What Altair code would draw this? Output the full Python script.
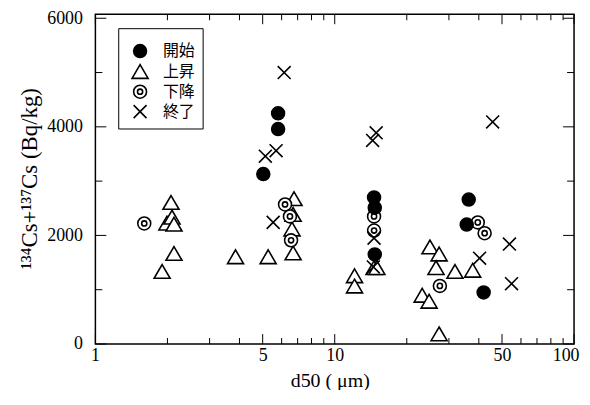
import altair as alt
import pandas as pd

series = ["開始", "上昇", "下降", "終了"]

start_x = [5.03, 5.8, 5.8, 14.6, 14.7, 14.7, 36.3, 35.6, 41.9]
start_y = [3130, 3960, 4250, 2700, 2510, 1650, 2660, 2200, 950]

up_x = [1.90, 1.99, 2.09, 2.13, 2.07, 2.13, 3.85, 5.27, 6.76, 6.7, 6.63, 6.7,
        12.1, 12.1, 14.6, 15.0, 25.0, 27.3, 26.5, 31.8, 37.7, 23.2, 24.8, 27.3]
up_y = [1330, 2220, 2330, 2200, 2600, 1660, 1600, 1600, 2670, 2380, 2110, 1670,
        1250, 1060, 1400, 1400, 1780, 1650, 1400, 1330, 1350, 890, 780, 180]

down_x = [1.6, 6.2, 6.5, 6.57, 14.6, 14.6, 27.5, 39.6, 42.3]
down_y = [2220, 2570, 2350, 1910, 2350, 2090, 1070, 2240, 2040]

end_x = [5.13, 5.69, 6.15, 5.53, 14.4, 14.9, 14.6, 14.5, 45.7, 40.3, 53.7, 54.8]
end_y = [3460, 3560, 5000, 2240, 3750, 3890, 1950, 1420, 4090, 1580, 1840, 1110]

x_label_vals = [1, 5, 10, 50, 100]
x_minor_vals = [2, 3, 4, 6, 7, 8, 9, 20, 30, 40, 60, 70, 80, 90]
y_label_vals = [0, 2000, 4000, 6000]
y_minor_vals = [1000, 3000, 5000]

W, H = 482, 332
Y_TOP = 6073  # frame top lies a little above 6000

rows = []
for name, xs, ys in [(series[1], up_x, up_y), (series[2], down_x, down_y),
                     (series[0], start_x, start_y), (series[3], end_x, end_y)]:
    for a, b in zip(xs, ys):
        rows.append({"stage": name, "d50": a, "cs": b})
df = pd.DataFrame(rows)

shape_paths = [
    "M-1,0A1,1 0 1,0 1,0A1,1 0 1,0 -1,0Z",
    "M0,-1.12L1.24,1.0L-1.24,1.0Z",
    "M-1,0A1,1 0 1,0 1,0A1,1 0 1,0 -1,0Z M-0.4,0A0.4,0.4 0 1,0 0.4,0A0.4,0.4 0 1,0 -0.4,0Z",
    "M-1,-1L1,1M-1,1L1,-1",
]
fills = ["black", "white", "white", "white"]
strokes = ["black", "black", "black", "black"]

xscale = alt.Scale(type="log", domain=[1, 100], nice=False)
yscale = alt.Scale(domain=[0, Y_TOP], nice=False, zero=False)

xaxis = alt.Axis(values=x_label_vals, format="d", title="d50 ( μm)",
                 ticks=False, tickSize=0, domain=False, grid=False,
                 labelPadding=3, labelFlush=True, labelFlushOffset=5,
                 titleX=236, titleY=27, titleBaseline="top", titleFontSize=20)
yaxis = alt.Axis(values=y_label_vals, format="d",
                 title="¹³⁴Cs+¹³⁷Cs (Bq/kg)",
                 ticks=False, tickSize=0, domain=False, grid=False,
                 labelPadding=13, titleX=-54, titleY=165, titleFontSize=23)

legend = alt.Legend(
    title="\u2002", titleFontSize=5, titlePadding=3,
    orient="none", legendX=23, legendY=14,
    strokeColor="black", fillColor="white", padding=7,
    symbolSize=169, symbolStrokeWidth=1.6,
    labelFont="Noto Sans CJK JP", labelFontSize=16, labelColor="black",
    labelOffset=15, rowPadding=0, symbolOffset=7,
    labelExpr="datum.label + '\u2002\u2009'",
)

points = alt.Chart(df).mark_point(
    filled=True, strokeWidth=1.6, opacity=1, size=169
).encode(
    x=alt.X("d50:Q", scale=xscale, axis=xaxis),
    y=alt.Y("cs:Q", scale=yscale, axis=yaxis),
    shape=alt.Shape("stage:N", scale=alt.Scale(domain=series, range=shape_paths), legend=legend),
    fill=alt.Fill("stage:N", scale=alt.Scale(domain=series, range=fills), legend=legend),
    stroke=alt.Stroke("stage:N", scale=alt.Scale(domain=series, range=strokes), legend=legend),
)


def xticks(vals, length, top):
    d = pd.DataFrame({"v": vals})
    y0 = 0 if top else H
    y1 = length if top else H - length
    return alt.Chart(d).mark_rule(color="black", strokeWidth=1).encode(
        x=alt.X("v:Q", scale=xscale, axis=xaxis), y=alt.value(y0), y2=alt.value(y1))


def yticks(vals, length, right):
    d = pd.DataFrame({"v": vals})
    x0 = W if right else 0
    x1 = W - length if right else length
    return alt.Chart(d).mark_rule(color="black", strokeWidth=1).encode(
        y=alt.Y("v:Q", scale=yscale, axis=yaxis), x=alt.value(x0), x2=alt.value(x1))


layers = [
    points,
    xticks(x_label_vals, 10, False), xticks(x_minor_vals, 6, False),
    xticks(x_label_vals, 10, True), xticks(x_minor_vals, 6, True),
    yticks(y_label_vals, 11, False), yticks(y_minor_vals, 7, False),
    yticks(y_label_vals, 11, True), yticks(y_minor_vals, 7, True),
]

chart = alt.layer(*layers).properties(
    width=W, height=H,
    autosize=alt.AutoSizeParams(type="none"),
    padding={"left": 88, "top": 5, "right": 8, "bottom": 45},
).configure_view(
    stroke="black", strokeWidth=1.5
).configure_axis(
    labelFont="Liberation Serif", labelFontSize=18, labelColor="black",
    titleFont="Liberation Serif", titleFontSize=19, titleColor="black",
    titleFontWeight="normal",
)

chart.save("out.html", embed_options={"renderer": "svg", "actions": False})
